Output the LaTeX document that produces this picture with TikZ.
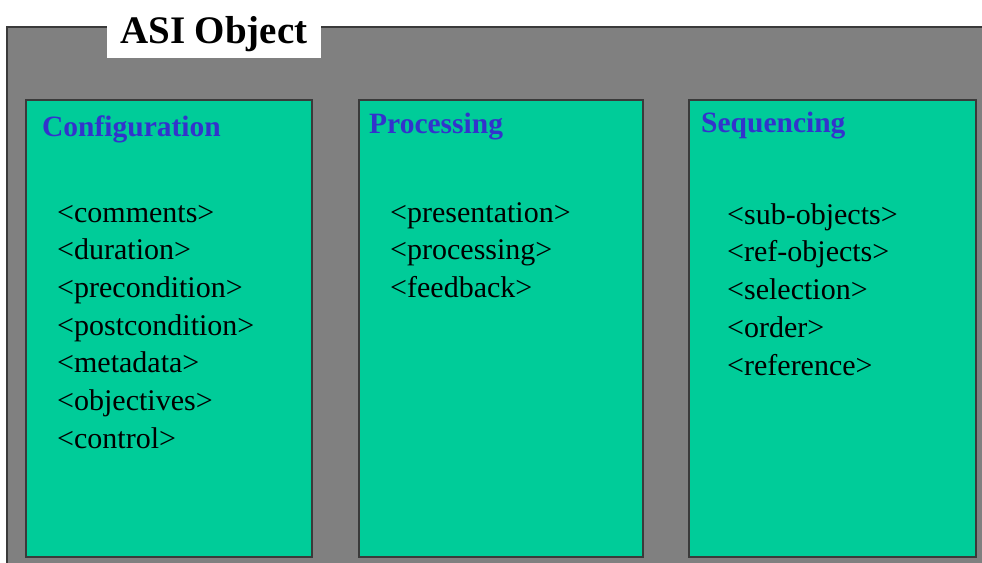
\documentclass[tikz,border=0pt]{standalone}
\usepackage{fontspec}
\setmainfont{Liberation Serif}
\definecolor{panelgray}{HTML}{808080}
\definecolor{partgreen}{HTML}{00CC99}
\definecolor{headblue}{HTML}{3333CC}
\definecolor{edgedark}{HTML}{3A3A3A}
\tikzset{
  partbox/.style={draw=edgedark, line width=1.4pt, fill=partgreen},
  parthead/.style={anchor=base west, inner sep=0pt, text=headblue, font=\fontsize{29.5}{32}\selectfont\bfseries},
  partitem/.style={anchor=base west, inner sep=0pt, font=\fontsize{30}{34}\selectfont},
}
\begin{document}
\begin{tikzpicture}[x=1pt,y=-1pt]
  \useasboundingbox (0,0) rectangle (982,562);
  \clip (0,0) rectangle (982,562);
  \fill[white] (0,0) rectangle (982,562);
  % outer object frame
  \draw[draw=edgedark, line width=1.2pt, fill=panelgray] (7,590) -- (7,27) -- (1000,27);
  \fill[panelgray] (7.6,27.6) rectangle (1000,590);
  % title tab
  \fill[white] (107,0) rectangle (321,58);
  \node[anchor=base west, inner sep=0pt, font=\fontsize{39}{42}\selectfont\bfseries] (title) at (120,43) {ASI Object};
  % three parts
  \draw[partbox] (26,100) rectangle (312,557);
  \draw[partbox] (359,100) rectangle (643,557);
  \draw[partbox] (689,100) rectangle (976,557);
  \node[parthead] (confhead) at (42,136) {Configuration};
  \node[parthead] (prochead) at (369,133) {Processing};
  \node[parthead] (seqhead) at (701,132) {Sequencing};
  % configuration elements
  \foreach \t [count=\i from 0] in {comments,duration,precondition,postcondition,metadata,objectives,control}
    \node[partitem] (conf\i) at (57,{222+37.7*\i}) {<\t>};
  % processing elements
  \foreach \t [count=\i from 0] in {presentation,processing,feedback}
    \node[partitem] (proc\i) at (390,{222+37.5*\i}) {<\t>};
  % sequencing elements
  \foreach \t [count=\i from 0] in {sub-objects,ref-objects,selection,order,reference}
    \node[partitem] (seq\i) at (727,{224+37.8*\i}) {<\t>};
\end{tikzpicture}
\end{document}
